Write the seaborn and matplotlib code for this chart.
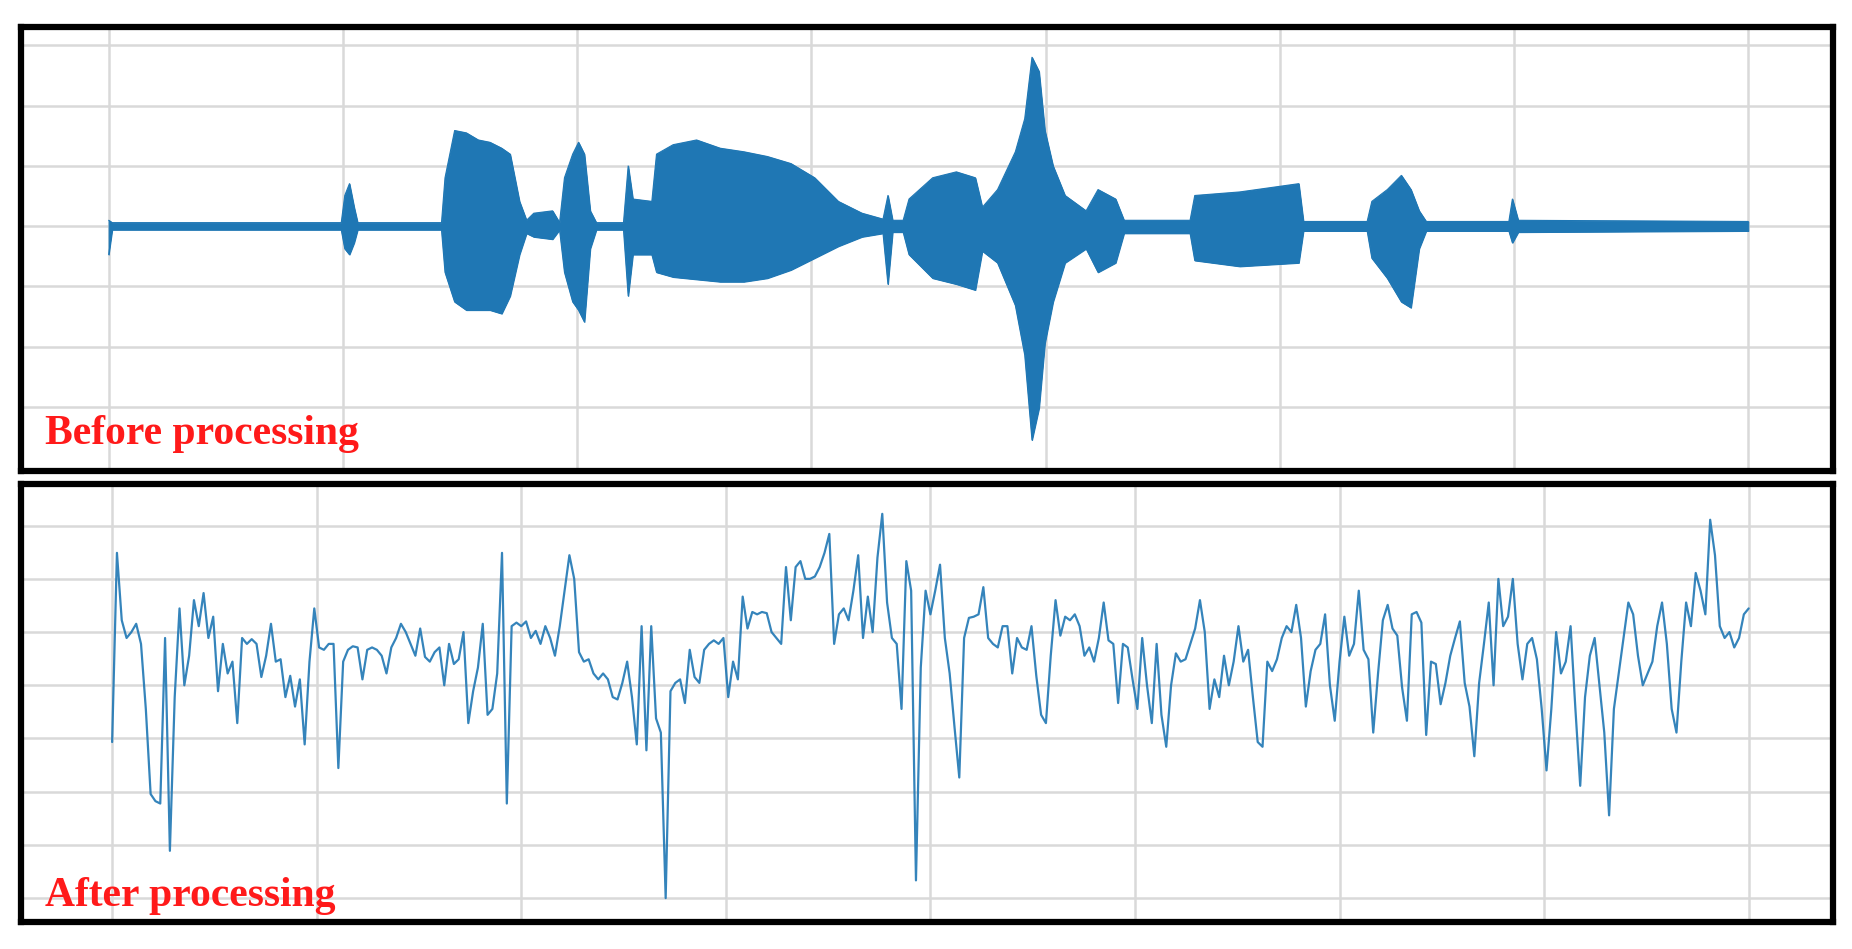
import numpy as np
import pandas as pd
import matplotlib
matplotlib.use("Agg")
import matplotlib.pyplot as plt
import seaborn as sns

# ---- Top panel: waveform envelope (time in grid units, amplitude in arbitrary units)
env_t = [0, 0.015, 0.993, 1.008, 1.028, 1.048, 1.063, 1.421, 1.436, 1.477, 1.527, 1.578, 1.628, 1.678,
         1.714, 1.754, 1.784, 1.815, 1.895, 1.925, 1.946, 1.981, 2.006, 2.031, 2.056, 2.082, 2.198,
         2.218, 2.238, 2.319, 2.339, 2.41, 2.51, 2.611, 2.712, 2.812, 2.913, 3.014, 3.115, 3.216,
         3.306, 3.327, 3.347, 3.392, 3.417, 3.518, 3.619, 3.7, 3.730, 3.795, 3.871, 3.911, 3.942,
         3.972, 3.997, 4.032, 4.083, 4.173, 4.224, 4.299, 4.335, 4.617, 4.637, 4.829, 5.081, 5.101,
         5.373, 5.393, 5.459, 5.519, 5.560, 5.595, 5.625, 5.978, 5.993, 6.018, 6.996, 7.0]
env_upper = [5, 3, 3, 26, 36, 16, 3, 3, 41, 81, 79, 73, 71, 66, 61, 21, 5, 11, 13, 3, 41, 61, 71, 61,
             13, 3, 3, 51, 23, 21, 61, 69, 73, 66, 63, 59, 53, 41, 21, 11, 6, 26, 5, 5, 23, 41, 46,
             41, 16, 31, 63, 91, 143, 131, 81, 51, 26, 13, 31, 23, 5, 5, 26, 29, 36, 4, 4, 21, 31,
             43, 31, 13, 4, 4, 23, 5, 4, 4]
env_lower = [-24, -3, -3, -19, -24, -14, -3, -3, -39, -64, -71, -71, -71, -74, -59, -24, -6, -9, -11,
             -3, -39, -64, -71, -81, -19, -3, -3, -59, -24, -24, -39, -43, -45, -47, -47, -44, -37,
             -27, -17, -9, -6, -49, -5, -5, -24, -44, -49, -54, -21, -31, -67, -109, -181, -154, -99,
             -64, -31, -19, -39, -31, -6, -6, -29, -34, -31, -4, -4, -27, -44, -64, -69, -19, -4, -4,
             -14, -5, -4, -4]

# ---- Bottom panel: processed signal (arbitrary units)
after_vals = [-3, 157, 100, 85, 90, 97, 80, 25, -47, -53, -55, 85, -95, 35, 110, 45, 70, 117, 95, 123,
              85, 103, 40, 80, 55, 65, 13, 85, 80, 84, 80, 52, 70, 97, 65, 67, 35, 53, 27, 50, -5, 65,
              110, 77, 75, 80, 80, -25, 65, 75, 78, 77, 50, 75, 77, 75, 70, 55, 77, 85, 97, 90, 80,
              70, 93, 69, 65, 73, 77, 45, 80, 63, 67, 90, 13, 40, 60, 97, 20, 25, 55, 157, -55, 95,
              98, 95, 99, 85, 91, 80, 95, 85, 70, 95, 125, 155, 135, 73, 65, 67, 55, 50, 55, 50, 35,
              33, 47, 65, 35, -5, 95, -10, 95, 17, 5, -135, 40, 47, 50, 30, 75, 52, 47, 75, 80, 83,
              80, 85, 35, 65, 50, 120, 93, 107, 105, 107, 106, 90, 85, 80, 145, 100, 145, 150, 135,
              135, 137, 145, 157, 173, 80, 105, 110, 100, 125, 155, 85, 120, 90, 153, 190, 115, 85,
              80, 25, 150, 125, -120, 60, 125, 105, 125, 147, 85, 55, 10, -33, 85, 102, 103, 105, 128,
              85, 80, 77, 95, 95, 55, 85, 77, 75, 95, 53, 20, 13, 70, 117, 87, 103, 100, 105, 95, 70,
              77, 65, 85, 115, 83, 80, 30, 80, 77, 50, 25, 85, 45, 13, 80, 20, -7, 45, 72, 65, 67,
              80, 93, 117, 90, 25, 50, 35, 70, 45, 65, 95, 65, 75, 35, -3, -7, 65, 57, 67, 85, 95,
              90, 113, 85, 27, 57, 75, 80, 105, 45, 15, 65, 103, 70, 80, 125, 75, 67, 5, 55, 100, 113,
              93, 87, 43, 15, 105, 107, 98, 3, 65, 63, 29, 47, 70, 85, 99, 47, 27, -15, 47, 80, 115,
              45, 135, 95, 103, 135, 80, 50, 80, 85, 67, 25, -27, 25, 90, 55, 65, 95, 25, -40, 35, 70,
              85, 45, 5, -65, 25, 55, 85, 115, 105, 70, 45, 55, 65, 95, 115, 80, 25, 5, 65, 115, 95,
              140, 125, 105, 185, 155, 95, 85, 90, 77, 85, 105, 110]

labels = ["Before processing", "After processing"]

sns.set_theme(style="white")
plt.rcParams['font.family'] = ['DejaVu Sans']

W, H = 1852, 949
fig = plt.figure(figsize=(W / 100, H / 100), dpi=100)
fig.patch.set_facecolor("white")
ax1 = fig.add_axes([0.0115, 0.504, 0.978, 0.468])
ax2 = fig.add_axes([0.0115, 0.0287, 0.978, 0.461])

blue = "#1f77b4"
gridc = "#d9d9d9"

# top
top_df = pd.DataFrame({"t": env_t, "up": env_upper, "lo": env_lower})
ax1.fill_between(top_df["t"], top_df["lo"], top_df["up"], color=blue, lw=0.8, edgecolor=blue, zorder=3)
sns.lineplot(data=top_df, x="t", y="up", ax=ax1, color=blue, lw=0.8, zorder=3)
sns.lineplot(data=top_df, x="t", y="lo", ax=ax1, color=blue, lw=0.8, zorder=3)
ax1.set_xlim(-0.373, 7.36)
ax1.set_ylim(-207, 169)
ax1.set_xticks(range(0, 8))
ax1.set_yticks([-153, -102, -51, 0, 51, 102, 153])

# bottom
n = len(after_vals)
bot_df = pd.DataFrame({"t": np.linspace(0, 8, n), "v": after_vals})
sns.lineplot(data=bot_df, x="t", y="v", ax=ax2, color=blue, lw=1.6, alpha=0.9, zorder=3)
ax2.set_xlim(-0.444, 8.41)
ax2.set_ylim(-155, 215)
ax2.set_xticks(range(0, 9))
ax2.set_yticks([-135, -90, -45, 0, 45, 90, 135, 180])

for ax, lab, ty in [(ax1, labels[0], 0.04), (ax2, labels[1], 0.015)]:
    ax.grid(True, color=gridc, lw=1.8, zorder=0)
    ax.set_xlabel("")
    ax.set_ylabel("")
    ax.tick_params(left=False, bottom=False, labelleft=False, labelbottom=False)
    for s in ax.spines.values():
        s.set_visible(True)
        s.set_color("black")
        s.set_linewidth(4.5)
    ax.text(0.013, ty, lab, transform=ax.transAxes, color="#ff1a1a", fontsize=30,
            fontweight="bold", family=["Liberation Serif", "DejaVu Serif"], ha="left", va="bottom",
            zorder=5)

fig.savefig("out.png", dpi=100, facecolor="white")
